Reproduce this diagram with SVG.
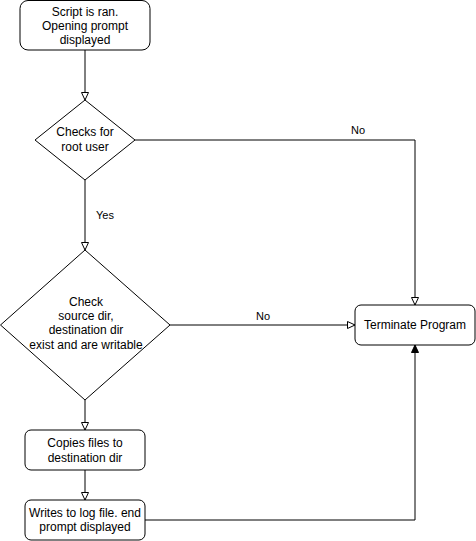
<svg xmlns="http://www.w3.org/2000/svg" width="476" height="541" viewBox="0 0 476 541">
<style>
.n{fill:#fff;stroke:#000;stroke-width:1}
.t{font-family:"Liberation Sans",Arial,sans-serif;font-size:12px;fill:#000;text-anchor:middle}
.l{font-family:"Liberation Sans",Arial,sans-serif;font-size:11px;fill:#000;text-anchor:middle}
.c{fill:none;stroke:#000;stroke-width:1}
</style>
<defs>
<marker id="open" markerWidth="10" markerHeight="10" refX="8" refY="4" orient="auto" markerUnits="userSpaceOnUse">
<path d="M0.5,0.5 L8,4 L0.5,7.5 Z" fill="#fff" stroke="#000" stroke-width="1"/>
</marker>
<marker id="fill" markerWidth="10" markerHeight="10" refX="8" refY="4" orient="auto" markerUnits="userSpaceOnUse">
<path d="M0.5,0.5 L8,4 L0.5,7.5 Z" fill="#000" stroke="#000" stroke-width="1"/>
</marker>
</defs>
<g id="connectors">
<path class="c" d="M85,50 V100" marker-end="url(#open)"/>
<path class="c" d="M85,180 V250" marker-end="url(#open)"/>
<path class="c" d="M135,140 H415 V305" marker-end="url(#open)"/>
<path class="c" d="M170,325 H355" marker-end="url(#open)"/>
<path class="c" d="M85,400 V430" marker-end="url(#open)"/>
<path class="c" d="M85,470 V500" marker-end="url(#open)"/>
<path class="c" d="M145,520 H415 V345" marker-end="url(#fill)"/>
<text class="l" x="358" y="134">No</text>
<text class="l" x="105" y="219">Yes</text>
<text class="l" x="263" y="320">No</text>
</g>
<g id="start">
<rect class="n" x="20" y="0.5" width="130" height="49.5" rx="8"/>
<text class="t" x="85" y="16">Script is ran.</text>
<text class="t" x="85" y="30">Opening prompt</text>
<text class="t" x="85" y="44">displayed</text>
</g>
<g id="root">
<polygon class="n" points="85,100 135,140 85,180 35,140"/>
<text class="t" x="85" y="136">Checks for</text>
<text class="t" x="85" y="151">root user</text>
</g>
<g id="checkdirs">
<polygon class="n" points="85,250 170,325 85,400 0.5,325"/>
<text class="t" x="86" y="306">Check</text>
<text class="t" x="86" y="320">source dir,</text>
<text class="t" x="86" y="334">destination dir</text>
<text class="t" x="86" y="349">exist and are writable</text>
</g>
<g id="copies">
<rect class="n" x="25" y="430" width="120" height="40" rx="6"/>
<text class="t" x="85" y="447">Copies files to</text>
<text class="t" x="85" y="462">destination dir</text>
</g>
<g id="writes">
<rect class="n" x="25" y="500" width="120" height="40" rx="6"/>
<text class="t" x="85" y="517">Writes to log file. end</text>
<text class="t" x="85" y="531">prompt displayed</text>
</g>
<g id="terminate">
<rect class="n" x="355" y="305" width="120" height="40" rx="6"/>
<text class="t" x="415" y="329">Terminate Program</text>
</g>
</svg>
